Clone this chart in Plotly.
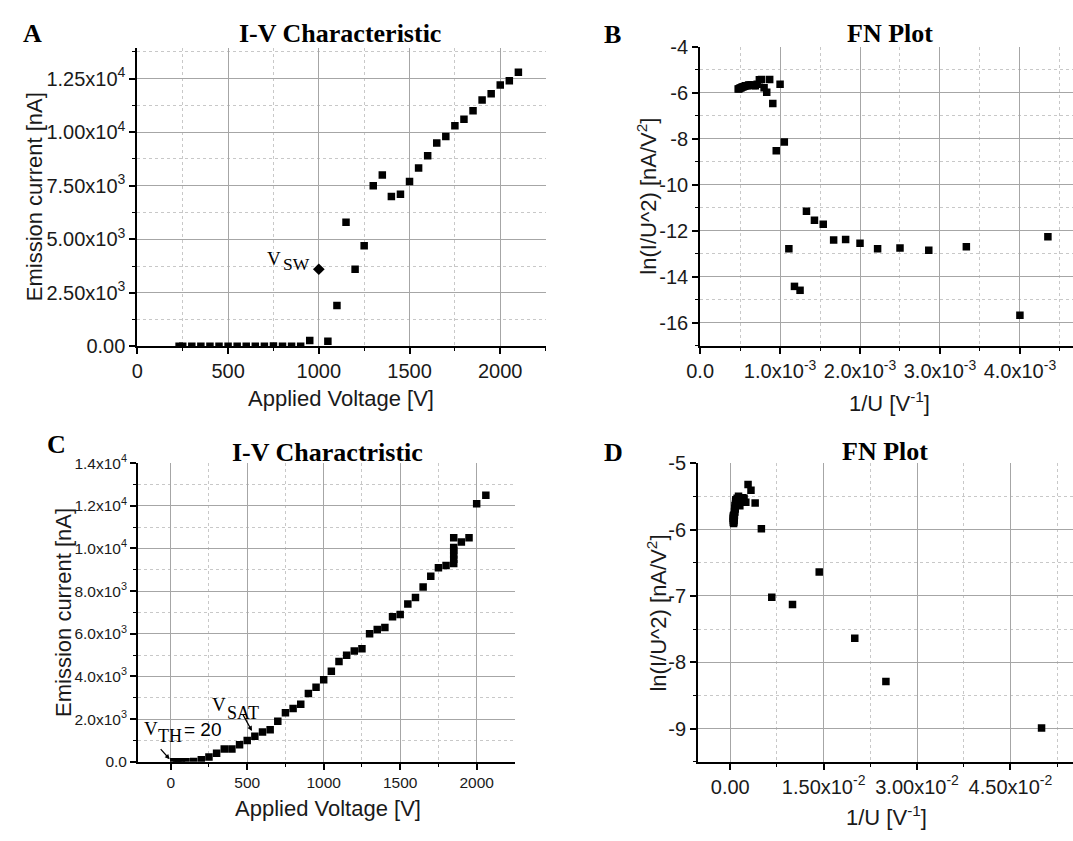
import plotly.graph_objects as go

# ---------------- Data ----------------
# Panel A: I-V characteristic (first sample)
a_voltage = [230, 250, 300, 350, 400, 450, 500, 550, 600, 650, 700, 750, 800, 850, 900,
             950, 1050, 1100, 1150, 1200, 1250, 1300, 1350, 1400, 1450, 1500, 1550, 1600,
             1650, 1700, 1750, 1800, 1850, 1900, 1950, 2000, 2050, 2100]
a_current = [0.25, 0.01, 0.28, 0.32, 0.47, 0.57, 0.9, 1.3, 1.5, 3.5, 4.8, 8.1, 0.3, 0.4, 2.3,
             270, 230, 1900, 5800, 3600, 4700, 7500, 8000, 7000, 7100, 7700, 8330, 8900,
             9500, 9800, 10300, 10600, 11000, 11500, 11800, 12200, 12400, 12800]
a_vsw_voltage = [1000]
a_vsw_current = [3600]

# Panel B: FN plot (first sample)
b_inv_u = [4.35e-3, 4.0e-3, 3.33e-3, 2.86e-3, 2.5e-3, 2.22e-3, 2.0e-3, 1.82e-3, 1.67e-3,
           1.54e-3, 1.43e-3, 1.33e-3, 1.25e-3, 1.18e-3, 1.11e-3, 1.053e-3, 1.0e-3,
           0.952e-3, 0.909e-3, 0.870e-3, 0.833e-3, 0.800e-3, 0.769e-3, 0.741e-3,
           0.714e-3, 0.690e-3, 0.667e-3, 0.645e-3, 0.625e-3, 0.606e-3, 0.588e-3,
           0.571e-3, 0.556e-3, 0.541e-3, 0.526e-3, 0.513e-3, 0.500e-3, 0.488e-3, 0.476e-3]
b_ln = [-12.25, -15.66, -12.69, -12.84, -12.74, -12.78, -12.54, -12.37, -12.40,
        -11.71, -11.54, -11.15, -14.58, -14.41, -12.78, -8.14, -5.63,
        -8.52, -6.47, -5.42, -5.98, -5.78, -5.42, -5.43,
        -5.63, -5.69, -5.68, -5.66, -5.66, -5.66, -5.69,
        -5.69, -5.72, -5.74, -5.75, -5.78, -5.79, -5.82, -5.84]

# Panel C: I-V characteristic (second sample)
c_voltage = [20, 40, 50, 70, 100, 150, 200, 250, 300, 350, 400, 450, 500, 550, 600, 650,
             700, 750, 800, 850, 900, 950, 1000, 1050, 1100, 1150, 1200, 1250, 1300, 1350,
             1400, 1450, 1500, 1550, 1600, 1650, 1700, 1750, 1800,
             1850, 1850, 1850, 1850, 1850, 1850, 1900, 1950, 2000, 2060]
c_current = [0.05, 0.4, 1.2, 6.4, 8, 20, 100, 230, 400, 600, 600, 800, 1000, 1200, 1400, 1500,
             1900, 2300, 2500, 2700, 3200, 3500, 3850, 4250, 4700, 5000, 5200, 5300, 6000, 6200,
             6300, 6800, 6900, 7400, 7700, 8200, 8700, 9100, 9200,
             9300, 9500, 9700, 9900, 10050, 10500, 10300, 10500, 12100, 12500]

# Panel D: FN plot (second sample)
d_inv_u = [0.05, 0.025, 0.02, 0.01429, 0.01, 0.00667, 0.005, 0.004, 0.00333, 0.00286,
           0.0025, 0.00222, 0.002, 0.00182, 0.00167, 0.00154, 0.00143, 0.00133, 0.00125,
           0.00118, 0.00111, 0.00105, 0.001, 0.000952, 0.000909, 0.00087, 0.000833, 0.0008,
           0.000769, 0.000741, 0.000714, 0.00069, 0.000667, 0.000645, 0.000625, 0.000606,
           0.000588, 0.000571, 0.000556,
           0.000541, 0.000541, 0.000541, 0.000541, 0.000541, 0.000541,
           0.000526, 0.000513, 0.0005, 0.000485]
d_ln = [-8.99, -8.29, -7.64, -6.64, -7.13, -7.02, -5.99, -5.60, -5.41, -5.32,
        -5.59, -5.53, -5.52, -5.53, -5.55, -5.64, -5.55, -5.50, -5.55,
        -5.59, -5.53, -5.55, -5.56, -5.56, -5.55, -5.58, -5.62, -5.69,
        -5.64, -5.68, -5.74, -5.73, -5.79, -5.78, -5.81, -5.81,
        -5.81, -5.82, -5.86,
        -5.91, -5.89, -5.87, -5.85, -5.83, -5.79,
        -5.86, -5.89, -5.80, -5.83]

# Tick labels
a_xticks = [0, 500, 1000, 1500, 2000]
a_xlabels = ["0", "500", "1000", "1500", "2000"]
a_yticks = [0, 2500, 5000, 7500, 10000, 12500]
a_ylabels = ["0.00", "2.50x10<sup>3</sup>", "5.00x10<sup>3</sup>", "7.50x10<sup>3</sup>",
             "1.00x10<sup>4</sup>", "1.25x10<sup>4</sup>"]
b_xticks = [0, 1e-3, 2e-3, 3e-3, 4e-3]
b_xlabels = ["0.0", "1.0x10<sup>-3</sup>", "2.0x10<sup>-3</sup>", "3.0x10<sup>-3</sup>",
             "4.0x10<sup>-3</sup>"]
b_yticks = [-16, -14, -12, -10, -8, -6, -4]
b_ylabels = ["-16", "-14", "-12", "-10", "-8", "-6", "-4"]
c_xticks = [0, 500, 1000, 1500, 2000]
c_xlabels = ["0", "500", "1000", "1500", "2000"]
c_yticks = [0, 2000, 4000, 6000, 8000, 10000, 12000, 14000]
c_ylabels = ["0.0", "2.0x10<sup>3</sup>", "4.0x10<sup>3</sup>", "6.0x10<sup>3</sup>",
             "8.0x10<sup>3</sup>", "1.0x10<sup>4</sup>", "1.2x10<sup>4</sup>",
             "1.4x10<sup>4</sup>"]
d_xticks = [0, 0.015, 0.03, 0.045]
d_xlabels = ["0.00", "1.50x10<sup>-2</sup>", "3.00x10<sup>-2</sup>", "4.50x10<sup>-2</sup>"]
d_yticks = [-9, -8, -7, -6, -5]
d_ylabels = ["-9", "-8", "-7", "-6", "-5"]

# ---------------- Layout helpers ----------------
W, H = 1073, 841


def px(x):
    return x / W


def py(y):
    return 1 - y / H


SANS = "Liberation Sans"
SERIF = "Liberation Serif"


def axis(domain, rng, tv, tt, minor_vals, anchor, fsize=20, ticklen=6):
    return dict(
        domain=domain, range=rng, anchor=anchor,
        tickmode="array", tickvals=tv, ticktext=tt,
        showline=True, linecolor="black", linewidth=2,
        ticks="outside", ticklen=ticklen, tickwidth=1.5, tickcolor="black",
        showgrid=True, gridcolor="#a6a6a6", gridwidth=1.2,
        zeroline=False,
        tickfont=dict(family=SANS, size=fsize, color="#1a1a1a"),
        minor=dict(tickmode="array", tickvals=minor_vals, ticks="outside",
                   ticklen=3, tickwidth=1.2, tickcolor="black",
                   showgrid=True, gridcolor="#c8c8c8", griddash="dot", gridwidth=1),
    )


mk = dict(symbol="square", size=7.5, color="black")

fig = go.Figure()
fig.add_trace(go.Scatter(x=a_voltage, y=a_current, mode="markers", marker=mk,
                         xaxis="x", yaxis="y"))
fig.add_trace(go.Scatter(x=a_vsw_voltage, y=a_vsw_current, mode="markers",
                         marker=dict(symbol="diamond", size=9, color="black"),
                         xaxis="x", yaxis="y"))
fig.add_trace(go.Scatter(x=b_inv_u, y=b_ln, mode="markers", marker=mk,
                         xaxis="x2", yaxis="y2"))
fig.add_trace(go.Scatter(x=c_voltage, y=c_current, mode="markers", marker=mk,
                         xaxis="x3", yaxis="y3"))
fig.add_trace(go.Scatter(x=d_inv_u, y=d_ln, mode="markers", marker=mk,
                         xaxis="x4", yaxis="y4"))

# domains in pixels
A_dom = ([px(125), px(539)], [py(344.3), py(38.3)])
B_dom = ([px(695.2), px(1073)], [py(344), py(36.7)])
C_dom = ([px(125.7), px(508)], [py(771), py(464.3)])
D_dom = ([px(693.1), px(1073)], [py(771), py(464.3)])

layout = dict(
    width=W, height=H, margin=dict(l=0, r=0, t=0, b=0),
    paper_bgcolor="white", plot_bgcolor="white", showlegend=False,
    xaxis=axis(A_dom[0], [0, 2252], a_xticks, a_xlabels, [250, 750, 1250, 1750, 2250], "y"),
    yaxis=axis(A_dom[1], [0, 13920], a_yticks, a_ylabels,
               [1250, 3750, 6250, 8750, 11250, 13750], "x"),
    xaxis2=axis(B_dom[0], [0, 4.664e-3], b_xticks, b_xlabels,
                [0.5e-3, 1.5e-3, 2.5e-3, 3.5e-3, 4.5e-3], "y2"),
    yaxis2=axis(B_dom[1], [-17, -4], b_yticks, b_ylabels,
                [-17, -15, -13, -11, -9, -7, -5], "x2"),
    xaxis3=axis(C_dom[0], [-213.5, 2253], c_xticks, c_xlabels, [250, 750, 1250, 1750], "y3",
                fsize=15.5),
    yaxis3=axis(C_dom[1], [0, 14000], c_yticks, c_ylabels,
                [1000, 3000, 5000, 7000, 9000, 11000, 13000], "x3", fsize=15.5),
    xaxis4=axis(D_dom[0], [-0.00517, 0.05505], d_xticks, d_xlabels,
                [0.0075, 0.0225, 0.0375, 0.0525], "y4"),
    yaxis4=axis(D_dom[1], [-9.5, -5], d_yticks, d_ylabels,
                [-9.5, -8.5, -7.5, -6.5, -5.5], "x4"),
)

ann = []


def text(x, y, s, size, family=SANS, bold=False, angle=0, color="#1a1a1a"):
    ann.append(dict(x=px(x), y=py(y), xref="paper", yref="paper",
                    text=(f"<b>{s}</b>" if bold else s),
                    showarrow=False, xanchor="center", yanchor="middle", textangle=angle,
                    font=dict(family=family, size=size, color=color)))


# panel letters
text(19, 23, "A", 26, SERIF, True, color="black")
text(606, 24, "B", 26, SERIF, True, color="black")
text(42.7, 445.5, "C", 26, SERIF, True, color="black")
text(607, 453, "D", 26, SERIF, True, color="black")
# titles
text(330.5, 23, "I-V Characteristic", 26, SERIF, True, color="black")
text(887.5, 23, "FN Plot", 26, SERIF, True, color="black")
text(317.7, 453, "I-V Charactristic", 26, SERIF, True, color="black")
text(883, 452, "FN Plot", 26, SERIF, True, color="black")
# axis titles
text(331.6, 398, "Applied Voltage [V]", 22)
text(20.5, 191, "Emission current [nA]", 22, angle=-90)
text(887.5, 401, "1/U [V<sup>-1</sup>]", 22)
text(641, 190, "ln(I/U^2) [nA/V<sup>2</sup>]", 22, angle=-90)
text(317.7, 819, "Applied Voltage [V]", 22)
text(50.8, 618, "Emission current [nA]", 22, angle=-90)
text(884, 827, "1/U [V<sup>-1</sup>]", 22)
text(651.2, 618, "ln(I/U^2) [nA/V<sup>2</sup>]", 22, angle=-90)

# V_SW label
text(263.5, 254.5, "V", 19, SERIF, color="black")
text(286, 260, "SW", 17.5, SERIF, color="black")
# V_SAT label
text(208, 712.5, "V", 19, SERIF, color="black")
text(232.5, 721, "SAT", 18, SERIF, color="black")
# V_TH label
text(139, 736.7, "V", 19, SERIF, color="black")
text(158.4, 744.2, "TH", 18, SERIF, color="black")
text(191, 737.5, "= 20", 19, SANS, color="black")

# arrows
ann.append(dict(x=-7, y=123, xref="x3", yref="y3", ax=-10.3, ay=-11.6, text="",
                showarrow=True, arrowhead=2, arrowsize=0.8, arrowwidth=1.2, arrowcolor="black"))
ann.append(dict(x=531, y=1447, xref="x3", yref="y3", ax=-9.7, ay=-17.6, text="",
                showarrow=True, arrowhead=2, arrowsize=0.8, arrowwidth=1.2, arrowcolor="black"))

layout["annotations"] = ann
fig.update_layout(**layout)
fig.write_html("out.html", config={"displayModeBar": False},
               post_script="document.body.style.margin='0px';")
